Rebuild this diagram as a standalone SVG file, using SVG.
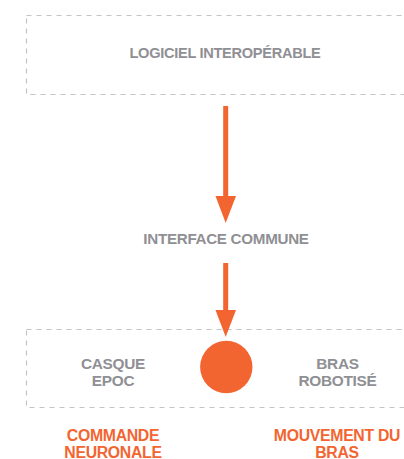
<svg xmlns="http://www.w3.org/2000/svg" width="404" height="459" viewBox="0 0 404 459">
<style>
.box{fill:none;stroke:#c4c4c6;stroke-width:1.2;stroke-dasharray:5 5}
.lbl{font-family:"Liberation Sans",Arial,sans-serif;font-weight:bold;fill:#8f8f94;text-anchor:middle;letter-spacing:-0.3px}
.org{font-family:"Liberation Sans",Arial,sans-serif;font-weight:bold;fill:#f26531;text-anchor:middle;letter-spacing:-0.3px}
.arr{stroke:#f26531;stroke-width:5;fill:none}
.head{fill:#f26531}
</style>
<rect width="404" height="459" fill="#ffffff"/>
<g id="logiciel">
<rect class="box" x="26.5" y="15.5" width="400" height="79"/>
<text class="lbl" x="225" y="58" font-size="14.6">LOGICIEL INTEROPÉRABLE</text>
</g>
<g id="interface">
<text class="lbl" x="226" y="243.5" font-size="15.2">INTERFACE COMMUNE</text>
</g>
<g id="systeme">
<rect class="box" x="26.5" y="329.5" width="400" height="78"/>
<circle cx="226.3" cy="367" r="26.2" fill="#f26531"/>
</g>
<g id="casque">
<text class="lbl" x="113" y="368.5" font-size="15.4">CASQUE</text>
<text class="lbl" x="113" y="385.5" font-size="15.4">EPOC</text>
</g>
<g id="bras">
<text class="lbl" x="337.5" y="368.5" font-size="15.4">BRAS</text>
<text class="lbl" x="337.5" y="385.5" font-size="15.4">ROBOTISÉ</text>
</g>
<g id="commande">
<text class="org" x="113" y="441" font-size="15.8">COMMANDE</text>
<text class="org" x="113" y="457.5" font-size="15.8">NEURONALE</text>
</g>
<g id="mouvement">
<text class="org" x="337" y="441" font-size="15.8">MOUVEMENT DU</text>
<text class="org" x="337" y="457.5" font-size="15.8">BRAS</text>
</g>
<g id="connectors">
<line class="arr" x1="225.7" y1="106" x2="225.7" y2="200"/>
<polygon class="head" points="215.5,196 236,196 225.7,223"/>
<line class="arr" x1="225.7" y1="263" x2="225.7" y2="313"/>
<polygon class="head" points="215.5,310 236,310 225.7,337"/>
</g>
</svg>
